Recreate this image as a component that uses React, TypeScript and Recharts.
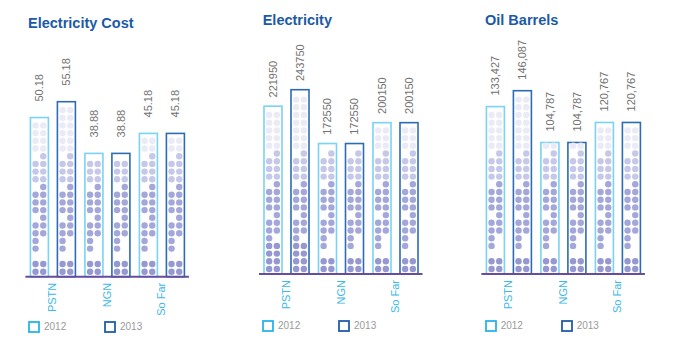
import { BarChart, Bar, XAxis, YAxis, LabelList, Legend } from "recharts";

const categories = ["PSTN", "NGN", "So Far"];
const seriesNames = ["2012", "2013"];

const costTitle = "Electricity Cost";
const cost2012 = [50.18, 38.88, 45.18];
const cost2013 = [55.18, 38.88, 45.18];

const electricityTitle = "Electricity";
const electricity2012 = [221950, 172550, 200150];
const electricity2013 = [243750, 172550, 200150];

const oilTitle = "Oil Barrels";
const oil2012 = [133427, 104787, 120767];
const oil2013 = [146087, 104787, 120767];

const FONT = '"Liberation Sans", Arial, sans-serif';
const barStroke = ["#7ad2f4", "#2c6cb4"];
const legendStroke = ["#27b4ea", "#1f5ea8"];
const dotShades = ["#9598d1", "#a4a7da", "#c6c8e9", "#eaebf6"];

// dot rows from the bottom of a bar: B both, L left, R right, - none; digit = shade
const dotPattern = ["B0", "B0", "-", "L1", "L1", "B1", "B1", "R1", "B1", "B1", "B1", "R1", "B2", "B2", "B2", "R2"];
const densePattern = ["B0", "B0", "B0", "B0", "L1", "B1", "B1", "R1", "B1", "B1", "B1", "R1", "B2", "B2", "B2", "R2"];

const PLOT_W = 163.5;
const AXIS_H = 30;
const CHART_W = 230;
const CHART_H = 346;

function DotBar(props: any) {
  const { x, y, width, height, stroke, dense } = props;
  const bottom = y + height;
  const cx = x + width / 2;
  const pattern = dense ? densePattern : dotPattern;
  const dots: any[] = [];
  for (let r = 0; r < 60; r++) {
    const cy = bottom - 5 - r * 7.7;
    if (cy < y + 3) break;
    const code = r < pattern.length ? pattern[r] : "B3";
    if (code === "-") continue;
    const fill = dotShades[Number(code[1])];
    if (code[0] !== "R") dots.push(<circle key={"l" + r} cx={cx - 3.85} cy={cy} r={3.2} fill={fill} />);
    if (code[0] !== "L") dots.push(<circle key={"r" + r} cx={cx + 3.85} cy={cy} r={3.2} fill={fill} />);
  }
  return (
    <g>
      <rect x={x} y={y} width={width} height={height} fill="#fff" stroke={stroke} strokeWidth={1.6} />
      {dots}
    </g>
  );
}

const CategoryTick = (props: any) => {
  const { x, y, payload } = props;
  return (
    <text
      x={x}
      y={y}
      dy="0.35em"
      transform={`rotate(-90 ${x} ${y})`}
      textAnchor="end"
      fill="#3bb8e8"
      fontSize={11}
      fontFamily={FONT}
    >
      {payload.value}
    </text>
  );
};

const LegendBox = () => (
  <div style={{ display: "flex", fontFamily: FONT, fontSize: 10, color: "#9a9a9a" }}>
    {seriesNames.map((n, i) => (
      <div key={n} style={{ width: 76, display: "flex", alignItems: "center" }}>
        <svg width={12} height={12}>
          <rect x={1} y={1} width={10} height={10} fill="none" stroke={legendStroke[i]} strokeWidth={1.8} />
        </svg>
        <span style={{ marginLeft: 4, lineHeight: "12px" }}>{n}</span>
      </div>
    ))}
  </div>
);

interface PanelProps {
  title: string;
  left: number;
  titleLeft: number;
  titleTop: number;
  plotLeft: number;
  plotTop: number;
  plotBottom: number;
  legendLeft: number;
  legendTop: number;
  labelGap: number;
  v2012: number[];
  v2013: number[];
  format: (v: number) => string;
  densePstn?: boolean;
}

function Panel(p: PanelProps) {
  const data = categories.map((name, i) => ({ name, y2012: p.v2012[i], y2013: p.v2013[i] }));
  const max = Math.max(...p.v2012, ...p.v2013);
  const ml = p.plotLeft - p.left;

  const renderValue = (props: any) => {
    const x = Number(props.x);
    const y = Number(props.y);
    const cx = x + Number(props.width) / 2;
    const ty = y - p.labelGap;
    return (
      <text
        x={cx}
        y={ty}
        dy="0.35em"
        transform={`rotate(-90 ${cx} ${ty})`}
        textAnchor="start"
        fill="#717171"
        fontSize={11}
        fontFamily={FONT}
      >
        {p.format(Number(props.value))}
      </text>
    );
  };

  return (
    <>
      <div
        style={{
          position: "absolute",
          left: p.titleLeft,
          top: p.titleTop,
          fontFamily: FONT,
          fontWeight: "bold",
          fontSize: 14.5,
          lineHeight: "15px",
          color: "#1b5aa6",
          whiteSpace: "nowrap",
        }}
      >
        {p.title}
      </div>
      <div style={{ position: "absolute", left: p.left, top: 0 }}>
        <BarChart
          width={CHART_W}
          height={CHART_H}
          data={data}
          barSize={18}
          barGap={9}
          margin={{
            top: p.plotTop,
            left: ml,
            right: CHART_W - ml - PLOT_W,
            bottom: CHART_H - p.plotBottom - AXIS_H,
          }}
        >
          <XAxis
            dataKey="name"
            interval={0}
            height={AXIS_H}
            tickLine={false}
            tickSize={0}
            tickMargin={6}
            axisLine={{ stroke: "#6a4c9c", strokeWidth: 2 }}
            tick={<CategoryTick />}
          />
          <YAxis hide domain={[0, max]} />
          <Legend
            layout="horizontal"
            verticalAlign="middle"
            align="center"
            content={<LegendBox />}
            wrapperStyle={{ left: p.legendLeft - p.left, top: p.legendTop, width: 160, height: 12 }}
          />
          {seriesNames.map((s, i) => (
            <Bar
              key={s}
              dataKey={"y" + s}
              name={s}
              isAnimationActive={false}
              shape={(bp: any) => (
                <DotBar {...bp} stroke={barStroke[i]} dense={p.densePstn && bp.index === 0} />
              )}
            >
              <LabelList dataKey={"y" + s} content={renderValue} />
            </Bar>
          ))}
        </BarChart>
      </div>
    </>
  );
}

export default function App() {
  return (
    <div
      style={{
        position: "absolute",
        left: 0,
        top: 0,
        width: 700,
        height: 346,
        background: "#fff",
        overflow: "hidden",
      }}
    >
      <Panel
        title={costTitle}
        left={0}
        titleLeft={28}
        titleTop={16}
        plotLeft={25.4}
        plotTop={101.7}
        plotBottom={276.7}
        legendLeft={28}
        legendTop={321}
        labelGap={16}
        v2012={cost2012}
        v2013={cost2013}
        format={(v) => v.toFixed(2)}
      />
      <Panel
        title={electricityTitle}
        left={240}
        titleLeft={262.7}
        titleTop={13}
        plotLeft={259}
        plotTop={89.7}
        plotBottom={274}
        legendLeft={262}
        legendTop={320}
        labelGap={8.7}
        v2012={electricity2012}
        v2013={electricity2013}
        format={(v) => String(v)}
        densePstn
      />
      <Panel
        title={oilTitle}
        left={470}
        titleLeft={485}
        titleTop={13}
        plotLeft={481.4}
        plotTop={90.7}
        plotBottom={274}
        legendLeft={484.7}
        legendTop={320}
        labelGap={11}
        v2012={oil2012}
        v2013={oil2013}
        format={(v) => v.toLocaleString("en-US")}
      />
    </div>
  );
}
